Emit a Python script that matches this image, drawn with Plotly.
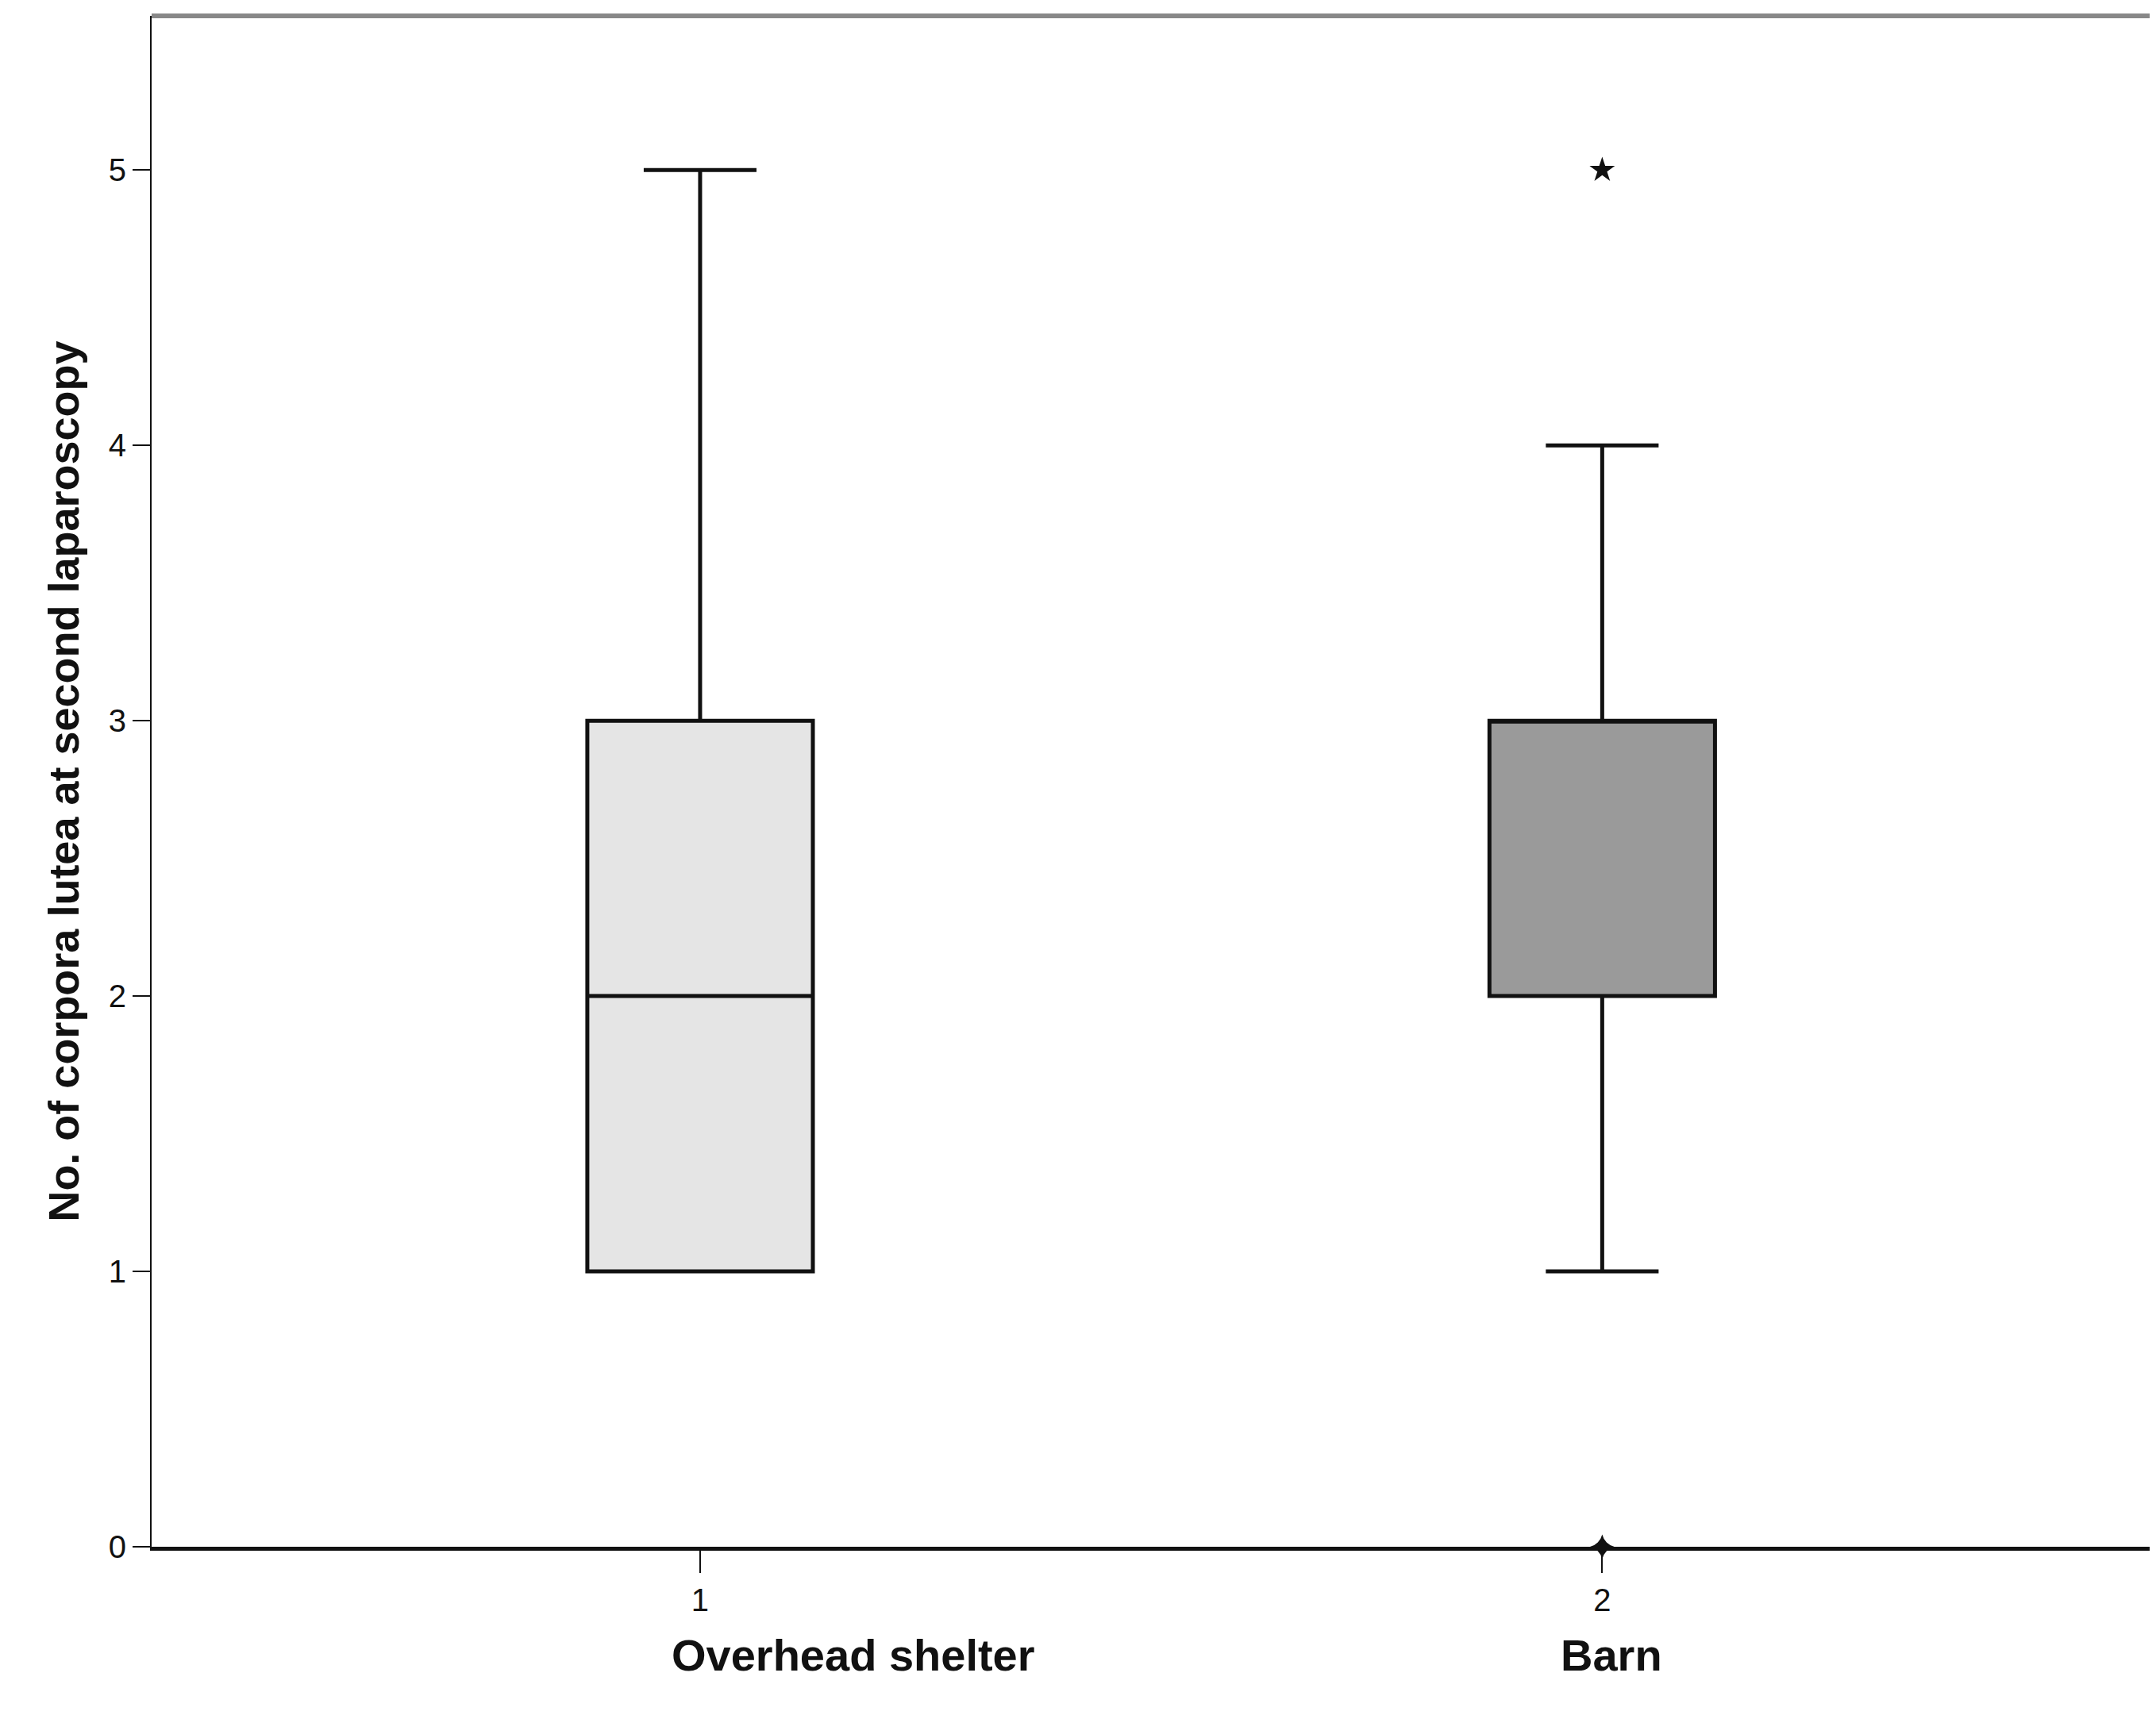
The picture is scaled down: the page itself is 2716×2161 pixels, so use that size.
import plotly.graph_objects as go

groups = [1, 2]
group_labels = ["Overhead shelter", "Barn"]
q1 = [1, 2]
median = [2, 3]
q3 = [3, 3]
lower = [1, 1]
upper = [5, 4]
fills = ["#e5e5e5", "#9a9a9a"]
outlier_x = [2]
outlier_y = [0]
extreme_x = [2]
extreme_y = [5]

fig = go.Figure()
for i, g in enumerate(groups):
    fig.add_trace(go.Box(x=[g], q1=[q1[i]], median=[median[i]], q3=[q3[i]],
                         lowerfence=[lower[i]], upperfence=[upper[i]],
                         width=0.25, whiskerwidth=0.5, fillcolor=fills[i],
                         line=dict(color="#111111", width=5), boxpoints=False,
                         showlegend=False, hoverinfo="skip"))
fig.add_trace(go.Scatter(x=outlier_x, y=outlier_y, mode="markers",
                         marker=dict(symbol="star-diamond", size=22, color="#111111"),
                         showlegend=False, cliponaxis=False))
fig.add_trace(go.Scatter(x=extreme_x, y=extreme_y, mode="markers",
                         marker=dict(symbol="star", size=24, color="#111111"),
                         showlegend=False))
for g, lab in zip(groups, group_labels):
    fig.add_annotation(x=g + 0.17 if g == 1 else g + 0.01, y=0, xref="x", yref="paper",
                       text="<b>%s</b>" % lab, showarrow=False, yshift=-170,
                       font=dict(size=56, color="#111111"))

fig.add_shape(type="line", xref="paper", yref="paper", x0=0, x1=1, y0=1, y1=1,
              line=dict(color="#888888", width=6))
fig.add_shape(type="line", xref="paper", yref="paper", x0=1, x1=1, y0=0, y1=1,
              line=dict(color="#111111", width=2))

fig.update_layout(
    width=2716, height=2161, plot_bgcolor="white", paper_bgcolor="white",
    margin=dict(l=183, r=9, t=12, b=220),
    font=dict(family="Liberation Sans, Arial", color="#111111"),
    xaxis=dict(range=[0.392, 2.613], tickvals=groups, ticktext=["1", "2"],
               showline=True, linecolor="#111111", linewidth=5,
               ticks="outside", ticklen=28, tickwidth=2, tickcolor="#111111",
               tickfont=dict(size=40), showgrid=False, zeroline=False),
    yaxis=dict(range=[0, 5.56], tickvals=[0, 1, 2, 3, 4, 5],
               showline=True, linecolor="#111111", linewidth=2,
               ticks="outside", ticklen=22, tickwidth=2, tickcolor="#111111",
               tickfont=dict(size=40), showgrid=False, zeroline=False,
               title=dict(text="<b>No. of corpora lutea at second laparoscopy</b>",
                          font=dict(size=54), standoff=20)),
)
fig.write_html("out.html")
